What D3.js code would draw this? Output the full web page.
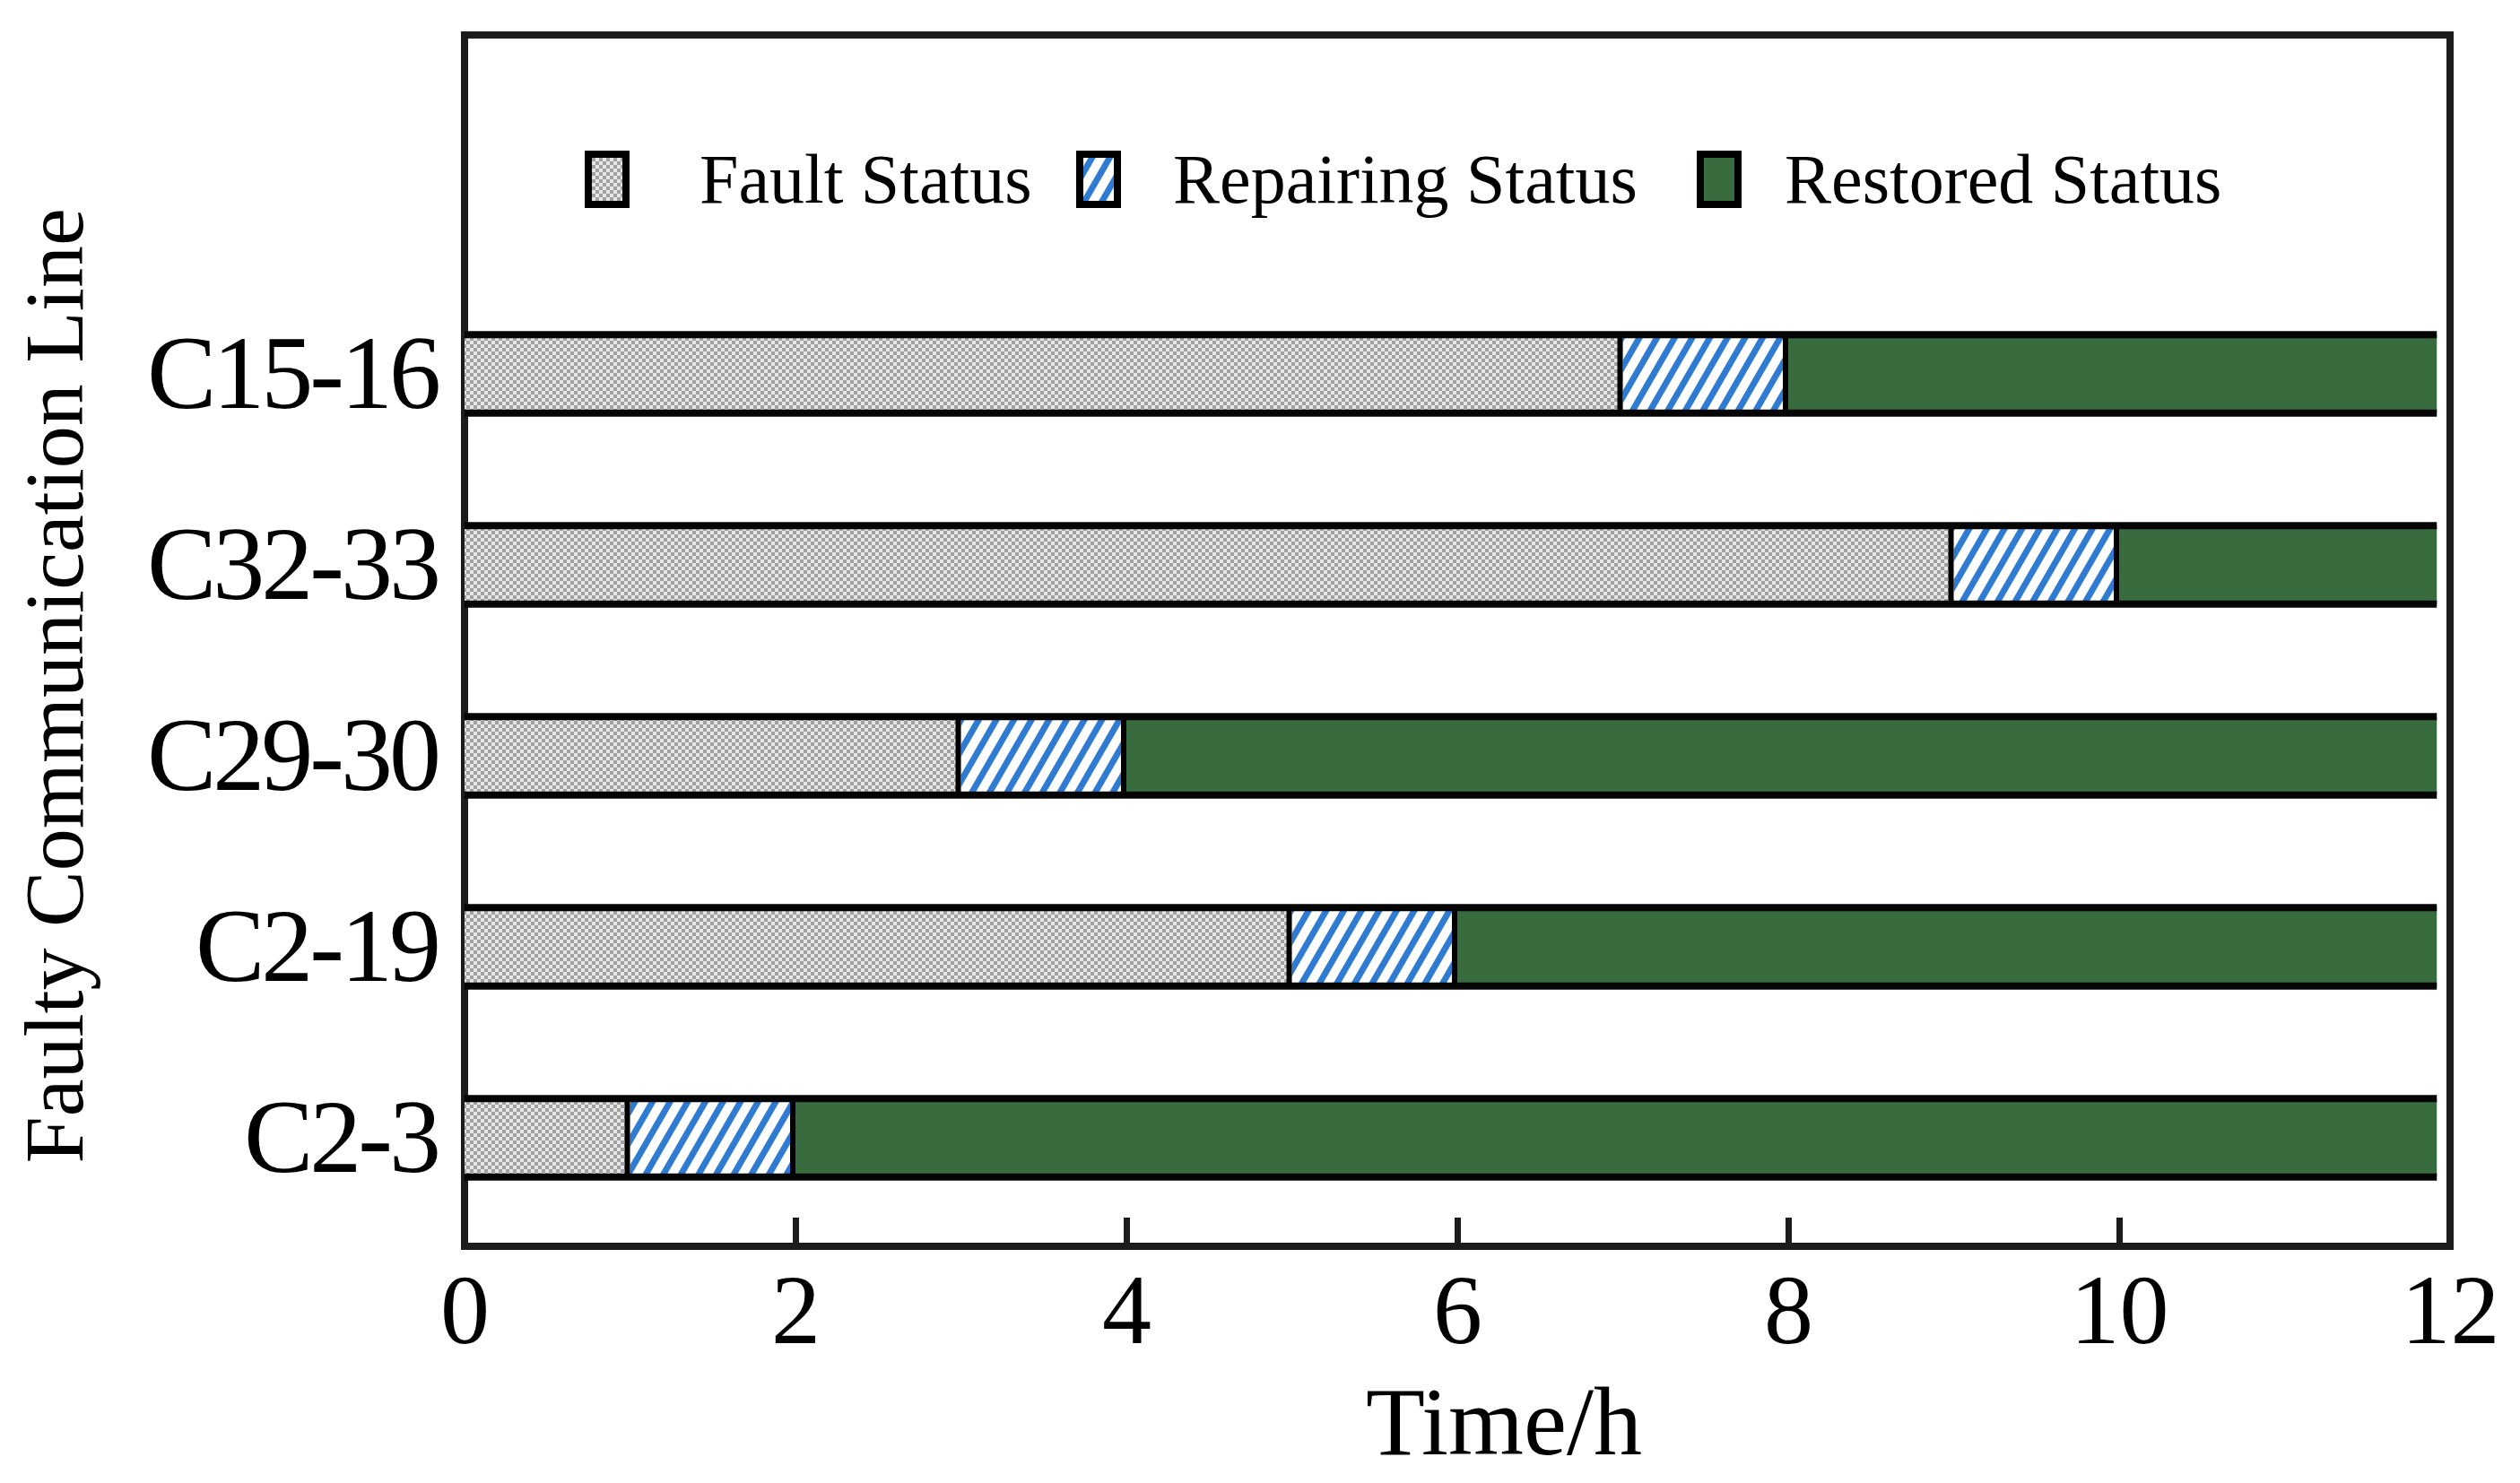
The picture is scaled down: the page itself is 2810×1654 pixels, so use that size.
<!DOCTYPE html>
<html>
<head>
<meta charset="utf-8">
<script src="https://cdn.jsdelivr.net/npm/d3@7"></script>
<style>
  html, body { margin: 0; padding: 0; background: #fff; }
  svg text { font-family: "Liberation Serif", "Times New Roman", serif; fill: #000; }
</style>
</head>
<body>
<div id="chart"></div>
<script>
// Fault / repair / restore timeline per communication line (stacked horizontal bars)

const lines = ["C15-16", "C32-33", "C29-30", "C2-19", "C2-3"];
const faultHours = [7, 9, 3, 5, 1];
const repairHours = [1, 1, 1, 1, 1];
const restoredHours = [3.92, 1.92, 7.92, 5.92, 9.92];
const xTicks = [0, 2, 4, 6, 8, 10, 12];
const statusKeys = ["fault", "repair", "restored"];
const statusLabels = ["Fault Status", "Repairing Status", "Restored Status"];

const width = 2810, height = 1654;
const frame = {left: 518, right: 2732, top: 39, bottom: 1390};

const svg = d3.select("#chart").append("svg")
  .attr("width", width).attr("height", height)
  .attr("viewBox", `0 0 ${width} ${height}`);

// patterns
const defs = svg.append("defs");
const pFault = defs.append("pattern").attr("id", "pat-fault")
  .attr("patternUnits", "userSpaceOnUse").attr("width", 8).attr("height", 8);
pFault.append("rect").attr("width", 8).attr("height", 8).attr("fill", "#a2a2a2");
pFault.append("rect").attr("width", 4).attr("height", 4).attr("fill", "#e6e6e6");
pFault.append("rect").attr("x", 4).attr("y", 4).attr("width", 4).attr("height", 4).attr("fill", "#e6e6e6");

const pRepair = defs.append("pattern").attr("id", "pat-repair")
  .attr("patternUnits", "userSpaceOnUse").attr("width", 17).attr("height", 17)
  .attr("patternTransform", "rotate(30)");
pRepair.append("rect").attr("width", 17).attr("height", 17).attr("fill", "#fff");
pRepair.append("rect").attr("width", 7).attr("height", 17).attr("fill", "#2f7bd2");

const fills = {fault: "url(#pat-fault)", repair: "url(#pat-repair)", restored: "#386c3e"};

// scales
const x = d3.scaleLinear().domain([0, 12]).range([frame.left, frame.right]);
const y = d3.scaleBand().domain(lines).range([310.5, 1375.5])
  .paddingInner(0.59).paddingOuter(0.295);

const table = lines.map((name, i) => ({
  name, fault: faultHours[i], repair: repairHours[i], restored: restoredHours[i]
}));
const stacked = d3.stack().keys(statusKeys)(table);

// frame
svg.append("rect")
  .attr("x", frame.left).attr("y", frame.top)
  .attr("width", frame.right - frame.left).attr("height", frame.bottom - frame.top)
  .attr("fill", "none").attr("stroke", "#1c1c1c").attr("stroke-width", 8);

// bar segments
const gBars = svg.append("g");
gBars.selectAll("g.series").data(stacked).join("g")
  .attr("class", "series")
  .attr("fill", d => fills[d.key])
  .selectAll("rect").data(d => d).join("rect")
  .attr("x", d => x(d[0]))
  .attr("y", d => y(d.data.name))
  .attr("width", d => x(d[1]) - x(d[0]))
  .attr("height", y.bandwidth());

// separators between segments
stacked.slice(1).forEach(s => {
  gBars.append("g").selectAll("line").data(s).join("line")
    .attr("x1", d => x(d[0]) - 3).attr("x2", d => x(d[0]) - 3)
    .attr("y1", d => y(d.data.name)).attr("y2", d => y(d.data.name) + y.bandwidth())
    .attr("stroke", "#000").attr("stroke-width", 6);
});

// top / bottom borders of each bar
const last = stacked[stacked.length - 1];
["top", "bottom"].forEach(side => {
  gBars.append("g").selectAll("line").data(last).join("line")
    .attr("x1", x(0)).attr("x2", d => x(d[1]))
    .attr("y1", d => y(d.data.name) + (side === "top" ? 0 : y.bandwidth()))
    .attr("y2", d => y(d.data.name) + (side === "top" ? 0 : y.bandwidth()))
    .attr("stroke", "#050505").attr("stroke-width", 8);
});

// x axis (inward ticks)
const xAxisG = svg.append("g").attr("transform", `translate(0,${frame.bottom})`)
  .call(d3.axisBottom(x).tickValues(xTicks).tickSizeInner(-32).tickSizeOuter(0).tickPadding(30));
xAxisG.select(".domain").remove();
xAxisG.selectAll(".tick line").attr("stroke", "#1c1c1c").attr("stroke-width", 7);
xAxisG.selectAll(".tick text")
  .attr("font-size", 110)
  .attr("font-family", "'Liberation Serif', 'Times New Roman', serif")
  .attr("fill", "#000");

// y labels
svg.append("g").selectAll("text").data(lines).join("text")
  .attr("x", 488)
  .attr("y", d => y(d) + y.bandwidth() / 2)
  .attr("dy", "0.33em")
  .attr("text-anchor", "end")
  .attr("font-size", 116)
  .attr("letter-spacing", -4)
  .text(d => d);

// axis titles
svg.append("text")
  .attr("x", 1677).attr("y", 1622)
  .attr("text-anchor", "middle")
  .attr("font-size", 108)
  .text("Time/h");

svg.append("text")
  .attr("transform", "translate(92,765) rotate(-90)")
  .attr("text-anchor", "middle")
  .attr("font-size", 94)
  .text("Faulty Communication Line");

// legend
const legendMarkX = [652, 1200, 1892];
const legendTextX = [780, 1308, 1990];
const legend = svg.append("g").selectAll("g").data(statusKeys).join("g");
legend.append("rect")
  .attr("x", (d, i) => legendMarkX[i] + 4).attr("y", 172)
  .attr("width", 42).attr("height", 56)
  .attr("fill", d => fills[d])
  .attr("stroke", "#000").attr("stroke-width", 8);
legend.append("text")
  .attr("x", (d, i) => legendTextX[i]).attr("y", 226)
  .attr("font-size", 78)
  .text((d, i) => statusLabels[i]);
</script>
</body>
</html>
